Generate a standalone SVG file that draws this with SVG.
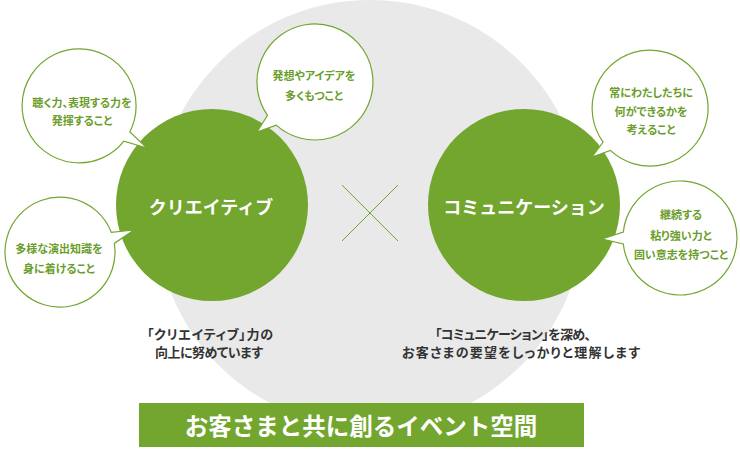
<svg xmlns="http://www.w3.org/2000/svg" width="740" height="450" viewBox="0 0 740 450">
<style>
text{font-family:"Noto Sans CJK JP","Noto Sans",sans-serif;font-weight:bold;text-anchor:middle}
.bub{fill:#fff;stroke:#72a62e;stroke-width:1.2}
.bt{fill:#6a9d2a;font-size:11px;font-feature-settings:"palt"}
.main{fill:#fff;font-size:18px}
.cap{fill:#333;font-size:13px;font-feature-settings:"palt"}
.green{fill:#72a62e}
</style>
<rect width="740" height="450" fill="#fff"/>
<circle cx="370" cy="214" r="214" fill="#e9e9e9"/>
<g id="connectors">
<line x1="342" y1="185" x2="398" y2="241" stroke="#72a62e" stroke-width="1"/>
<line x1="398" y1="185" x2="342" y2="241" stroke="#72a62e" stroke-width="1"/>
</g>
<g id="creative">
<circle class="green" cx="212" cy="205" r="96"/>
<text class="main" x="211" y="214">クリエイティブ</text>
</g>
<g id="communication">
<circle class="green" cx="524" cy="205" r="96"/>
<text class="main" x="524" y="214">コミュニケーション</text>
</g>
<g id="bubble1">
<path class="bub" d="M129.8 131.9 A57 57 0 1 0 123.9 141.1 L147 148 Z"/>
<text class="bt" x="82" y="107">聴く力、表現する力を</text>
<text class="bt" x="82" y="125">発揮すること</text>
</g>
<g id="bubble2">
<path class="bub" d="M111.3 232.3 A55 55 0 1 0 114.3 243.4 L134 230 Z"/>
<text class="bt" x="59" y="253">多様な演出知識を</text>
<text class="bt" x="59" y="273">身に着けること</text>
</g>
<g id="bubble3">
<path class="bub" d="M276.2 125.1 A58 58 0 1 0 267.5 115.3 L257 132 Z"/>
<text class="bt" x="314" y="80">発想やアイデアを</text>
<text class="bt" x="314" y="100">多くもつこと</text>
</g>
<g id="bubble4">
<path class="bub" d="M610.4 150.4 A58 58 0 1 0 603.1 142.1 L592 157 Z"/>
<text class="bt" x="651" y="97">常にわたしたちに</text>
<text class="bt" x="651" y="116">何ができるかを</text>
<text class="bt" x="651" y="134">考えること</text>
</g>
<g id="bubble5">
<path class="bub" d="M623.3 244 A57 57 0 1 0 623.3 232 L602 239 Z"/>
<text class="bt" x="681" y="219">継続する</text>
<text class="bt" x="681" y="240">粘り強い力と</text>
<text class="bt" x="681" y="259">固い意志を持つこと</text>
</g>
<g id="caption-left">
<text class="cap" x="210" y="339" textLength="126" lengthAdjust="spacing">「クリエイティブ」力の</text>
<text class="cap" x="209" y="357" textLength="108" lengthAdjust="spacing">向上に努めています</text>
</g>
<g id="caption-right">
<text class="cap" x="513" y="339" textLength="156" lengthAdjust="spacing">「コミュニケーション」を深め、</text>
<text class="cap" x="521" y="357" textLength="238" lengthAdjust="spacing">お客さまの要望をしっかりと理解します</text>
</g>
<g id="banner">
<rect class="green" x="139" y="403" width="445" height="44"/>
<text x="361" y="435" fill="#fff" font-size="23.5">お客さまと共に創るイベント空間</text>
</g>
</svg>
